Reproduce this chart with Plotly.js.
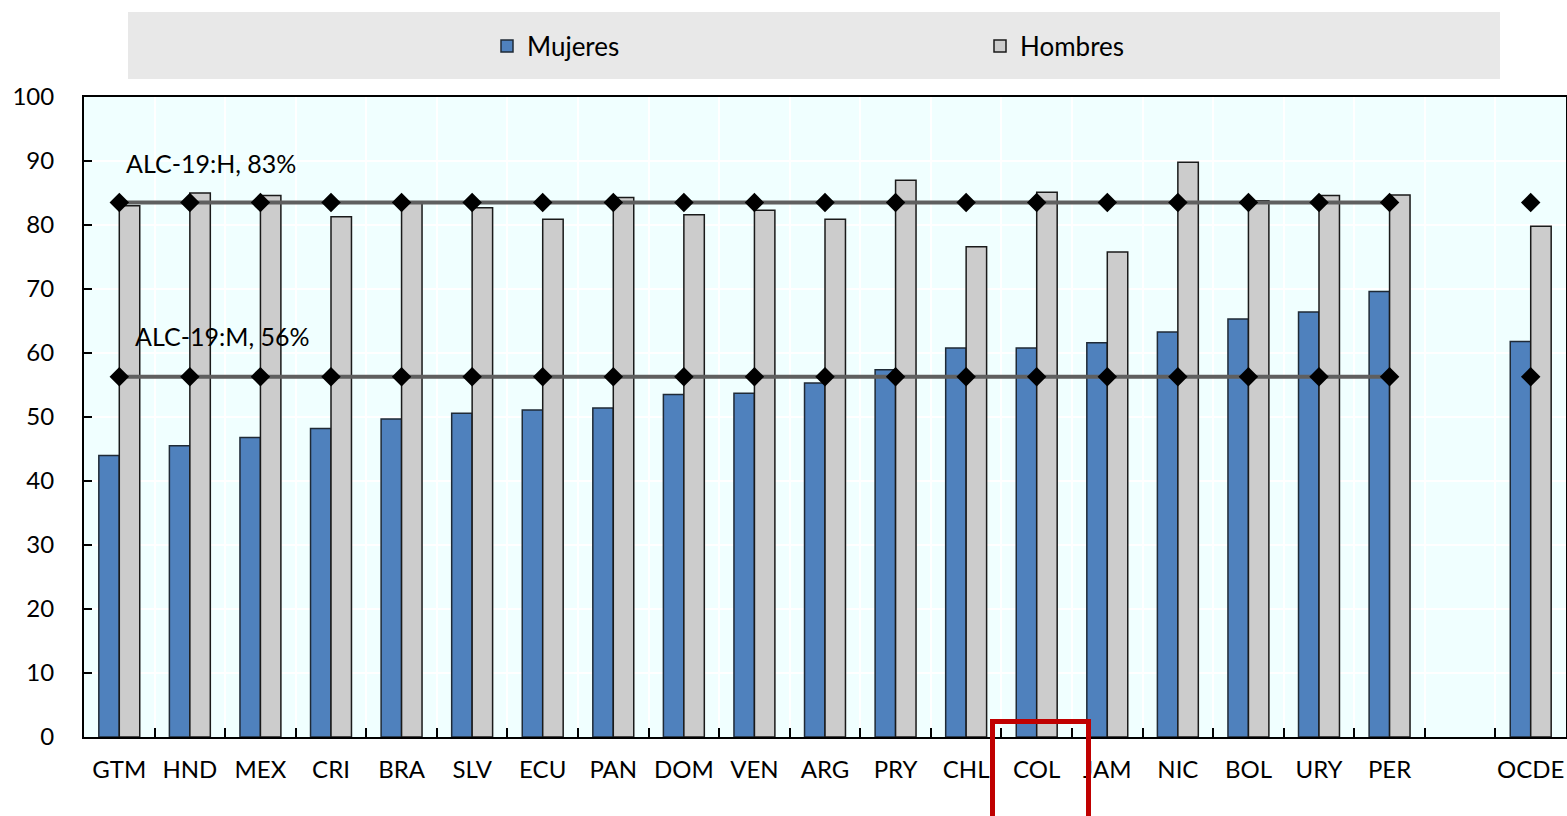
<!DOCTYPE html>
<html>
<head>
<meta charset="utf-8">
<script src="https://cdn.plot.ly/plotly-3.0.1.min.js"></script>
<style>html,body{margin:0;padding:0;background:#fff;}#chart{width:1567px;height:816px;}</style>
</head>
<body>
<div id="chart"></div>
<script>
// Categories (blank slot separates OCDE)
const countries = ["GTM","HND","MEX","CRI","BRA","SLV","ECU","PAN","DOM","VEN","ARG","PRY","CHL","COL","JAM","NIC","BOL","URY","PER"," ","OCDE"];
const mujeres = [44.0,45.5,46.8,48.2,49.7,50.6,51.1,51.4,53.5,53.7,55.3,57.4,60.8,60.8,61.6,63.3,65.3,66.4,69.6,null,61.8];
const hombres = [83.0,85.0,84.6,81.3,83.6,82.7,80.9,84.3,81.6,82.3,80.9,87.0,76.6,85.1,75.8,89.8,83.8,84.6,84.7,null,79.8];
const alcH = [83.5,83.5,83.5,83.5,83.5,83.5,83.5,83.5,83.5,83.5,83.5,83.5,83.5,83.5,83.5,83.5,83.5,83.5,83.5,null,83.5];
const alcM = [56.3,56.3,56.3,56.3,56.3,56.3,56.3,56.3,56.3,56.3,56.3,56.3,56.3,56.3,56.3,56.3,56.3,56.3,56.3,null,56.3];
const yTicks = [0,10,20,30,40,50,60,70,80,90,100];

const FONT = "Lato, 'Open Sans', sans-serif";

const traces = [
  {type:'bar', name:'Mujeres', x:countries, y:mujeres,
   marker:{color:'#4f81bd', line:{color:'#1f2a36', width:1.5}}},
  {type:'bar', name:'Hombres', x:countries, y:hombres,
   marker:{color:'#cccccc', line:{color:'#1a1a1a', width:1.5}}},
  {type:'scatter', mode:'lines+markers', name:'ALC-19:H', x:countries, y:alcH,
   connectgaps:false, showlegend:false, cliponaxis:false,
   line:{color:'#5f5f5f', width:4}, marker:{symbol:'diamond', size:15, color:'#000'}},
  {type:'scatter', mode:'lines+markers', name:'ALC-19:M', x:countries, y:alcM,
   connectgaps:false, showlegend:false, cliponaxis:false,
   line:{color:'#5f5f5f', width:4}, marker:{symbol:'diamond', size:15, color:'#000'}}
];

const L = 84, R = 1566, T = 97, B = 737;
const px = v => (v - L) / (R - L);
const py = v => (B - v) / (B - T);

const layout = {
  width:1567, height:816,
  margin:{l:L, r:1567-R, t:T, b:816-B, pad:0},
  paper_bgcolor:'#ffffff', plot_bgcolor:'#f0ffff',
  font:{family:FONT, size:24, color:'#000'},
  barmode:'group', bargap:0.42, bargroupgap:0,
  showlegend:true,
  legend:{orientation:'h', x:px(487), xanchor:'left', y:py(46), yanchor:'middle',
          bgcolor:'rgba(0,0,0,0)', font:{family:FONT, size:26}, entrywidth:448,
          traceorder:'normal'},
  xaxis:{type:'category', categoryarray:countries, categoryorder:'array',
         range:[-0.5, countries.length - 0.5], autorange:false, tickangle:0,
         tickson:'boundaries', ticks:'inside', ticklen:9, tickwidth:2, tickcolor:'#000',
         showgrid:true, gridcolor:'#ffffff', gridwidth:2,
         showline:true, linecolor:'#000', linewidth:2, mirror:true,
         ticklabelstandoff:10, tickfont:{family:FONT, size:24}, fixedrange:true},
  yaxis:{range:[0,100], tickvals:yTicks, ticktext:yTicks.map(String),
         ticks:'inside', ticklen:8, tickwidth:2, tickcolor:'#000',
         showgrid:true, gridcolor:'#ffffff', gridwidth:2, zeroline:false,
         showline:true, linecolor:'#000', linewidth:2, mirror:true,
         ticklabelstandoff:23, tickfont:{family:FONT, size:24}, fixedrange:true},
  shapes:[
    {type:'rect', xref:'paper', yref:'paper', x0:px(128), x1:px(1500), y0:py(79), y1:py(12),
     fillcolor:'#e8e8e8', line:{width:0}, layer:'below'},
    {type:'rect', xref:'paper', yref:'paper', x0:px(992.5), x1:px(1088.5), y0:py(830), y1:py(721.5),
     fillcolor:'rgba(0,0,0,0)', line:{color:'#c00000', width:5}, layer:'above'}
  ],
  annotations:[
    {xref:'paper', yref:'paper', x:px(124), y:py(163), xanchor:'left', yanchor:'middle',
     text:'ALC-19:H, 83%', showarrow:false, font:{family:FONT, size:25}},
    {xref:'paper', yref:'paper', x:px(133), y:py(336), xanchor:'left', yanchor:'middle',
     text:'ALC-19:M, 56%', showarrow:false, font:{family:FONT, size:25}}
  ]
};

Plotly.newPlot('chart', traces, layout, {displayModeBar:false, staticPlot:true});
</script>
</body>
</html>
